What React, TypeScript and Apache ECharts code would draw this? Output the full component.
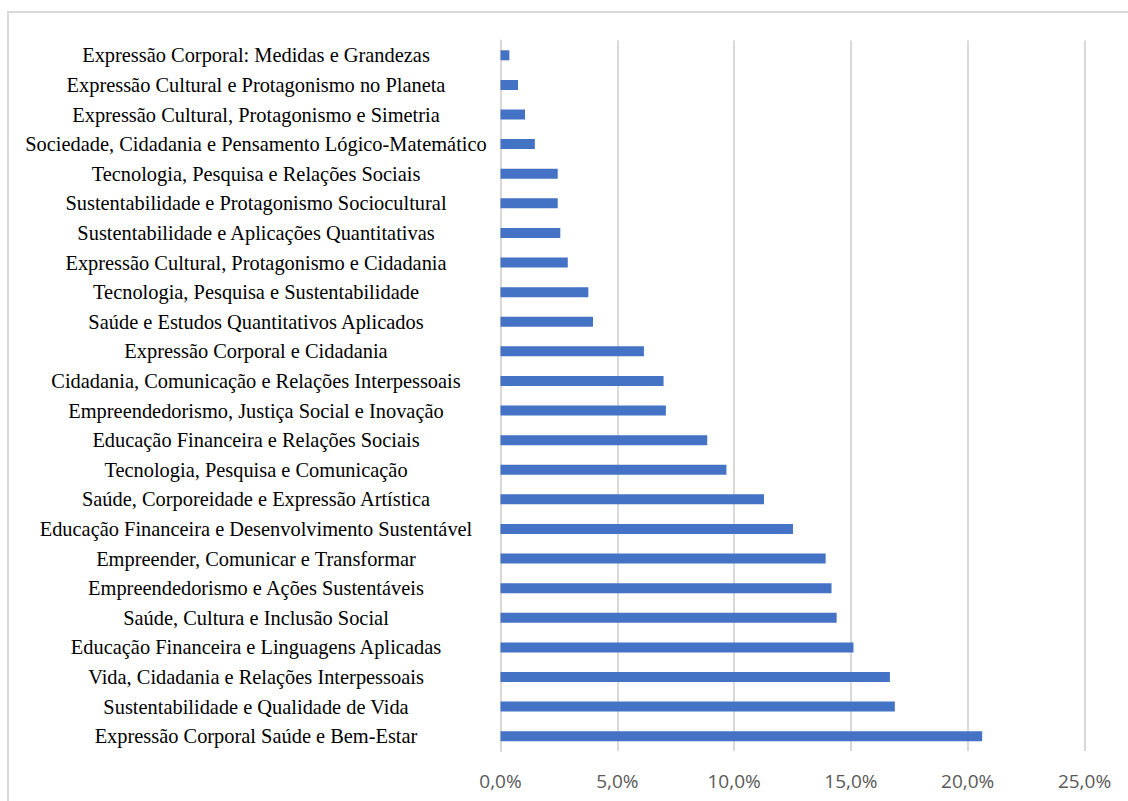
import React, { useEffect, useRef } from "react";
import * as echarts from "echarts";

const categories = [
  "Expressão Corporal: Medidas e Grandezas",
  "Expressão Cultural e Protagonismo no Planeta",
  "Expressão Cultural, Protagonismo e Simetria",
  "Sociedade, Cidadania e Pensamento Lógico-Matemático",
  "Tecnologia, Pesquisa e Relações Sociais",
  "Sustentabilidade e Protagonismo Sociocultural",
  "Sustentabilidade e Aplicações Quantitativas",
  "Expressão Cultural, Protagonismo e Cidadania",
  "Tecnologia, Pesquisa e Sustentabilidade",
  "Saúde e Estudos Quantitativos Aplicados",
  "Expressão Corporal e Cidadania",
  "Cidadania, Comunicação e Relações Interpessoais",
  "Empreendedorismo, Justiça Social e Inovação",
  "Educação Financeira e Relações Sociais",
  "Tecnologia, Pesquisa e Comunicação",
  "Saúde, Corporeidade e Expressão Artística",
  "Educação Financeira e Desenvolvimento Sustentável",
  "Empreender, Comunicar e Transformar",
  "Empreendedorismo e Ações Sustentáveis",
  "Saúde, Cultura e Inclusão Social",
  "Educação Financeira e Linguagens Aplicadas",
  "Vida, Cidadania e Relações Interpessoais",
  "Sustentabilidade e Qualidade de Vida",
  "Expressão Corporal Saúde e Bem-Estar",
];

const values = [
  0.38, 0.75, 1.05, 1.47, 2.45, 2.45, 2.56, 2.88, 3.76, 3.96, 6.14, 6.98,
  7.08, 8.85, 9.67, 11.28, 12.52, 13.92, 14.17, 14.39, 15.11, 16.67, 16.88,
  20.62,
];

const axisMax = 25;
const axisStep = 5;

export default function App() {
  const ref = useRef<HTMLDivElement>(null);
  useEffect(() => {
    if (!ref.current) return;
    const chart = echarts.init(ref.current, null, { renderer: "svg" });
    chart.setOption({
      animation: false,
      backgroundColor: "#ffffff",
      grid: { left: 500.5, right: 43.5, top: 40.5, bottom: 50 },
      graphic: [
        {
          type: "rect",
          shape: { x: 8, y: 12, width: 1300, height: 1000 },
          style: { fill: "none", stroke: "#d9d9d9", lineWidth: 2 },
          silent: true,
        },
      ],
      xAxis: {
        type: "value",
        min: 0,
        max: axisMax,
        interval: axisStep,
        axisLine: { show: false },
        axisTick: { show: false },
        splitLine: { show: true, lineStyle: { color: "#d9d9d9", width: 2 } },
        axisLabel: {
          color: "#595959",
          fontFamily: "Open Sans",
          fontSize: 19,
          margin: 20,
          formatter: (v: number) => v.toFixed(1).replace(".", ",") + "%",
        },
      },
      yAxis: {
        type: "category",
        data: categories,
        inverse: true,
        axisLine: { show: true, lineStyle: { color: "#d9d9d9", width: 2 } },
        axisTick: { show: false },
        axisLabel: {
          interval: 0,
          align: "center",
          margin: 244.5,
          color: "#000000",
          fontFamily: "Liberation Serif",
          fontSize: 20.4,
          padding: [4, 0, 0, 0],
        },
      },
      series: [
        {
          type: "bar",
          data: values,
          barWidth: 10,
          itemStyle: { color: "#4472C4" },
        },
      ],
    });
    return () => chart.dispose();
  }, []);
  return (
    <div
      ref={ref}
      style={{ position: "fixed", left: 0, top: 0, width: 1128, height: 801 }}
    />
  );
}
